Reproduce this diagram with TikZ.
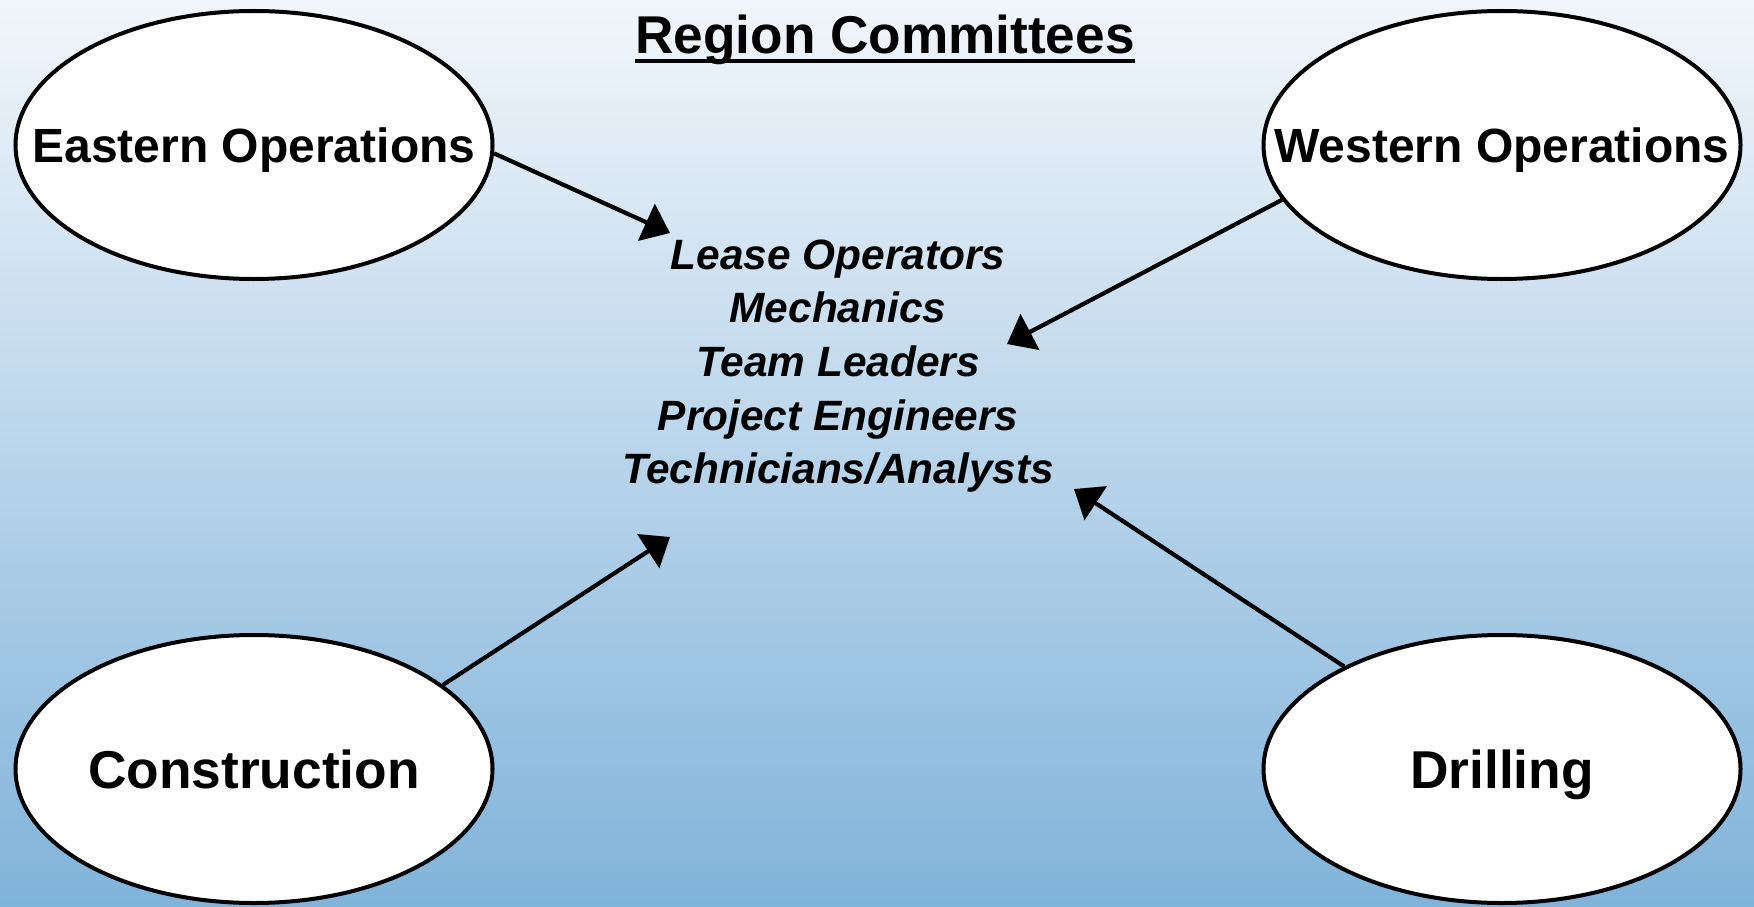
\documentclass[tikz,border=0pt]{standalone}
\usepackage{fontspec}
\setmainfont{Liberation Sans}
\usetikzlibrary{shapes.geometric,arrows.meta}
\definecolor{bgtop}{RGB}{242,246,251}
\definecolor{bgbot}{RGB}{128,179,218}
\begin{document}
\begin{tikzpicture}[x=1pt,y=-1pt,
  group/.style={ellipse, draw=black, line width=4pt, fill=white,
    minimum width=477pt, minimum height=268pt, inner ysep=0pt, inner xsep=-90pt,
    font=\bfseries\fontsize{48}{50}\selectfont, text height=34pt, text depth=-2pt},
  biggroup/.style={group, font=\bfseries\fontsize{53.3}{56}\selectfont, text height=38pt, text depth=-6pt},
  arr/.style={line width=4.2pt, -{Triangle[length=26pt,width=40pt]}}]
\fill[top color=bgtop, bottom color=bgbot] (0,0) rectangle (1754,907);
\useasboundingbox (0,0) rectangle (1754,907);

\node[font=\bfseries\fontsize{53.2}{60}\selectfont, anchor=base, inner sep=0pt] (title) at (885,54) {Region Committees};
\draw[line width=3.5pt] ([yshift=-7pt]title.base west) -- ([yshift=-7pt]title.base east);

\node[group] (east) at (254,145) {Eastern Operations};
\node[group] (west) at (1502,145) {Western Operations};
\node[biggroup] (cons) at (254,769) {Construction};
\node[biggroup] (drill) at (1502,769) {Drilling};

\node[font=\bfseries\itshape\fontsize{42.4}{53.7}\selectfont, align=center, inner sep=0pt] (roles) at (838,366)
  {Lease Operators\\Mechanics\\Team Leaders\\Project Engineers\\Technicians/Analysts};

\coordinate (t1) at (670,233);
\coordinate (t2) at (1007,344);
\coordinate (t3) at (670,537);
\coordinate (t4) at (1074,489);
\draw[arr] (east.-2) -- (t1);
\draw[arr] (west.194) -- (t2);
\draw[arr] (cons.24) -- (t3);
\draw[arr] (drill.147.5) -- (t4);
\end{tikzpicture}
\end{document}
